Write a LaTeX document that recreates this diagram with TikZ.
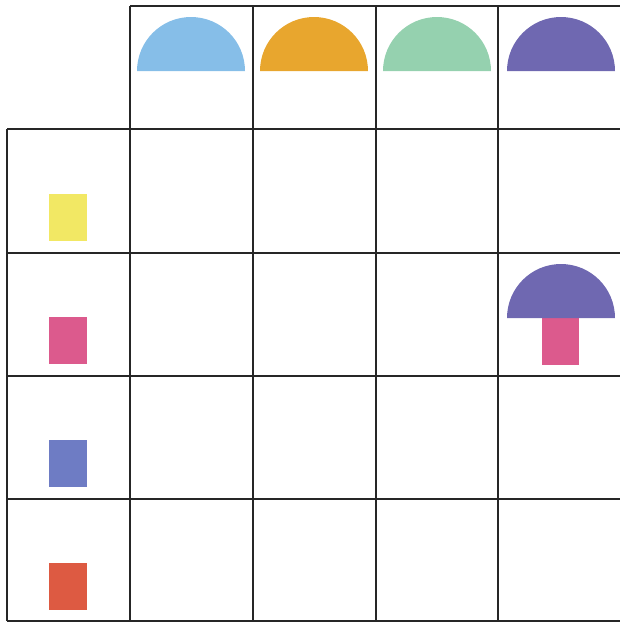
\documentclass[tikz,border=0pt]{standalone}
\begin{document}
\begin{tikzpicture}[x=1pt,y=-1pt,
  gridline/.style={draw=black!85,line width=1.2pt},
  cap/.style={fill=#1,draw=none},
  stem/.style={fill=#1,draw=none}]
\definecolor{cblue}{HTML}{86BEE8}
\definecolor{corange}{HTML}{E8A62E}
\definecolor{cgreen}{HTML}{95D1AF}
\definecolor{cpurple}{HTML}{6F68B1}
\definecolor{cyellow}{HTML}{F2E864}
\definecolor{cpink}{HTML}{DC5A8D}
\definecolor{cblue2}{HTML}{6E7CC4}
\definecolor{cred}{HTML}{DD5A42}
\useasboundingbox (0,0) rectangle (620,622);
% grid
\draw[gridline] (130,6) -- (620,6);
\foreach \y in {129,253,376,499,621} \draw[gridline] (7,\y) -- (620,\y);
\draw[gridline] (7,129) -- (7,621);
\foreach \x in {130,253,376,498} \draw[gridline] (\x,6) -- (\x,621);
% caps in header row
\foreach \cx/\c in {191/cblue,314/corange,437/cgreen,561/cpurple}
  \fill[cap=\c] (\cx-54,71) arc[start angle=180,end angle=360,radius=54] -- cycle;
% stems in left column
\foreach \y/\c in {194/cyellow,317/cpink,440/cblue2,563/cred}
  \fill[stem=\c] (49,\y) rectangle (87,\y+47);
% mushroom
\fill[stem=cpink] (542,318) rectangle (579,365);
\fill[cap=cpurple] (507,318) arc[start angle=180,end angle=360,radius=54] -- cycle;
\end{tikzpicture}
\end{document}
